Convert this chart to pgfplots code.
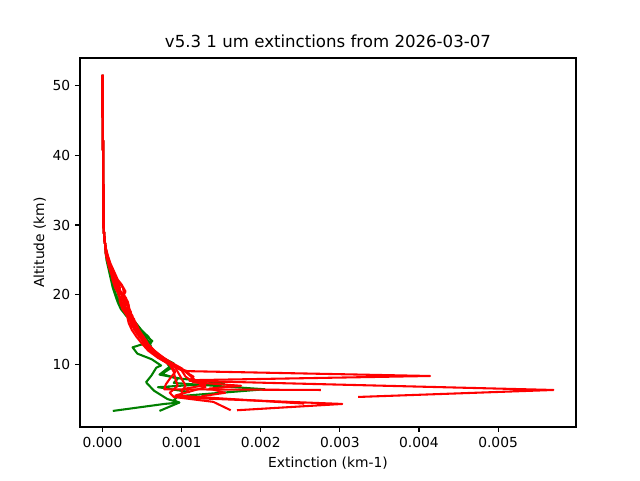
\documentclass[border=0pt]{standalone}
\usepackage{fontspec}
\setmainfont{DejaVu Sans}
\usepackage{pgfplots}
\pgfplotsset{compat=1.18}
\definecolor{mgreen}{HTML}{008000}
\definecolor{mred}{HTML}{FF0000}
\begin{document}
\begin{tikzpicture}
\begin{axis}[
  name=ax,
  scale only axis,
  width=4.96in, height=3.69in,
  xmin=-0.000285, xmax=0.005985,
  ymin=1.1, ymax=53.9,
  xtick={0,0.001,0.002,0.003,0.004,0.005},
  xticklabels={0.000,0.001,0.002,0.003,0.004,0.005},
  ytick={10,20,30,40,50},
  scaled x ticks=false,
  tick align=outside,
  xtick pos=left, ytick pos=left,
  major tick length=3.5pt,
  tick style={black, line width=0.8pt},
  axis line style={line width=0.8pt},
  /pgf/number format/assume math mode=true,
  tick label style={font=\fontsize{10}{12}\selectfont},
  label style={font=\fontsize{10}{12}\selectfont},
  ylabel style={yshift=-2pt},
  title style={font=\fontsize{12}{14}\selectfont, yshift=-2pt},
  title={v5.3 1 um extinctions from 2026-03-07},
  xlabel={Extinction (km-1)},
  ylabel={Altitude (km)},
  every axis plot/.append style={line width=1.5pt, line join=round},
]
% green profiles
\addplot[mgreen] table {
0.000000 51.5
0.000001 48.5
0.000003 45.5
0.000005 42.5
0.000007 39.5
0.000008 36.5
0.000010 33.5
0.000012 30.5
0.000020 28.5
0.000035 27.0
0.00004 26
0.00005 25
0.00007 24
0.00009 23
0.00011 22
0.00013 21
0.00016 20
0.00019 19
0.00023 18
0.00030 17
0.00040 16
0.00048 15
0.00056 14
0.00063 13.4
0.00038 12.5
0.00044 11.6
0.00062 10.8
0.00074 9.9
0.00068 9.6
0.00062 8.5
0.00055 7.5
0.00065 6.3
0.00082 5.1
0.00097 4.6
0.00078 4.4
0.00013 3.4
};
\addplot[mgreen] table {
0.000000 51.5
0.000001 48.5
0.000003 45.5
0.000005 42.5
0.000007 39.5
0.000008 36.5
0.000010 33.5
0.000012 30.5
0.000020 28.5
0.000035 27.0
0.00004 26
0.00006 25
0.00008 24
0.00010 23
0.00012 22
0.00014 21
0.00017 20
0.00021 19
0.00025 18
0.00032 17
0.00042 16
0.00049 15
0.00058 14
0.00062 13.3
0.00058 12.6
0.00070 11.5
0.00080 10.5
0.00086 9.5
0.00075 8.7
0.00095 8.0
0.00090 7.4
0.00205 6.5
0.00095 5.5
0.00090 4.9
0.00097 4.6
0.00072 3.4
};
\addplot[mgreen] table {
0.000000 51.5
0.000001 48.5
0.000003 45.5
0.000005 42.5
0.000007 39.5
0.000008 36.5
0.000010 33.5
0.000012 30.5
0.000020 28.5
0.000035 27.0
0.00005 26
0.00007 25
0.00009 24
0.00011 23
0.00014 22
0.00017 21
0.00020 20
0.00024 19
0.00028 18
0.00034 17
0.00041 16
0.00047 15
0.00054 14
0.00060 13
0.00063 12
0.00076 11
0.00090 10.2
0.00080 9.3
0.00072 8.6
0.00100 8.0
0.00154 7.4
0.00070 6.8
0.00110 6.1
};
% red profiles
\addplot[mred] table {
0.000000 51.5
0.000001 48.5
0.000003 45.5
0.000005 42.5
0.000007 39.5
0.000008 36.5
0.000010 33.5
0.000012 30.5
0.000020 28.5
0.000035 27.0
0.00006 25.5
0.00009 24.5
0.00012 23.5
0.00017 22.5
0.00024 21.5
0.00029 20.5
0.00025 19.5
0.00031 18.5
0.00036 17.5
0.00033 16.5
0.00041 15.5
0.00043 14.5
0.00052 13.5
0.00058 12.5
0.00068 11.5
0.00080 10.5
0.00095 9.6
0.00105 9.1
0.00414 8.4
0.00112 7.8
0.00130 7.1
0.00105 6.6
0.00110 6.0
};
\addplot[mred] table {
0.000000 51.5
0.000001 48.5
0.000003 45.5
0.000005 42.5
0.000007 39.5
0.000008 36.5
0.000010 33.5
0.000012 30.5
0.000020 28.5
0.000035 27.0
0.00005 26
0.00008 25
0.00011 24
0.00015 23
0.00019 22
0.00026 21
0.00027 20
0.00032 19
0.00034 18
0.00037 17
0.00042 16
0.00046 15
0.00052 14
0.00057 13
0.00066 12
0.00077 11
0.00090 10
0.00105 9
0.00115 8.3
0.00110 7.7
0.00570 6.4
0.00323 5.4
};
\addplot[mred] table {
0.000000 51.5
0.000001 48.5
0.000003 45.5
0.000005 42.5
0.000007 39.5
0.000008 36.5
0.000010 33.5
0.000012 30.5
0.000020 28.5
0.000035 27.0
0.00004 26
0.00006 25
0.00008 24
0.00011 23
0.00013 22
0.00016 21
0.00021 20
0.00022 19
0.00025 18
0.00031 17
0.00033 16
0.00037 15
0.00043 14
0.00050 13
0.00058 12
0.00070 11
0.00086 10
0.00092 9
0.00085 8
0.00080 7.2
0.00078 6.5
0.00276 6.4
};
\addplot[mred] table {
0.000000 51.5
0.000001 48.5
0.000003 45.5
0.000005 42.5
0.000007 39.5
0.000008 36.5
0.000010 33.5
0.000012 30.5
0.000020 28.5
0.000035 27.0
0.00005 25.5
0.00008 24.5
0.00011 23.5
0.00014 22.5
0.00017 21.5
0.00023 20.5
0.00030 19.5
0.00026 18.5
0.00033 17.5
0.00040 16.5
0.00037 15.5
0.00047 14.5
0.00050 13.5
0.00061 12.5
0.00069 11.5
0.00082 10.5
0.00090 10.0
0.00095 9.0
0.00100 8.0
0.00105 7.0
0.00100 6.2
0.00101 5.3
0.00303 4.4
0.00170 3.5
};
\addplot[mred] table {
0.000000 51.5
0.000001 48.5
0.000003 45.5
0.000005 42.5
0.000007 39.5
0.000008 36.5
0.000010 33.5
0.000012 30.5
0.000020 28.5
0.000035 27.0
0.00005 26
0.00007 25
0.00010 24
0.00014 23
0.00015 22
0.00019 21
0.00025 20
0.00029 19
0.00027 18
0.00034 17
0.00039 16
0.00043 15
0.00046 14
0.00056 13
0.00063 12
0.00072 11
0.00085 10
0.00090 9
0.00092 8
0.00095 7
0.00085 6
0.00090 5.4
0.00140 4.7
0.00162 3.5
};
\addplot[mred] table {
0.000000 51.5
0.000001 48.5
0.000003 45.5
0.000005 42.5
0.000007 39.5
0.000008 36.5
0.000010 33.5
0.000012 30.5
0.000020 28.5
0.000035 27.0
0.00007 25.5
0.00010 24.5
0.00014 23.5
0.00018 22.5
0.00021 21.5
0.00022 20.5
0.00027 19.5
0.00033 18.5
0.00031 17.5
0.00036 16.5
0.00044 15.5
0.00045 14.5
0.00055 13.5
0.00060 12.5
0.00071 11.5
0.00084 10.5
0.00100 9.5
0.00110 8.5
0.00120 7.5
0.00130 6.8
0.00092 5.6
0.00255 4.45
};
\addplot[mred] table {
0.000000 51.5
0.000001 48.5
0.000003 45.5
0.000005 42.5
0.000007 39.5
0.000008 36.5
0.000010 33.5
0.000012 30.5
0.000020 28.5
0.000035 27.0
0.00005 26
0.00008 25
0.00009 24
0.00012 23
0.00017 22
0.00022 21
0.00020 20
0.00027 19
0.00030 18
0.00038 17
0.00035 16
0.00042 15
0.00049 14
0.00053 13
0.00064 12
0.00074 11
0.00086 10
0.00100 9.2
0.00105 8.3
0.00115 7.5
0.00175 7.0
0.00135 6.6
0.00155 6.0
0.00125 5.5
};
\addplot[mred] table {
0.000000 51.5
0.000001 48.5
0.000003 45.5
0.000005 42.5
0.000007 39.5
0.000008 36.5
0.000010 33.5
0.000012 30.5
0.000020 28.5
0.000035 27.0
0.00004 26
0.00006 25
0.00009 24
0.00012 23
0.00014 22
0.00018 21
0.00024 20
0.00024 19
0.00028 18
0.00032 17
0.00038 16
0.00040 15
0.00048 14
0.00052 13
0.00060 12
0.00071 11
0.00085 10
0.00095 9.5
0.00110 9.0
};
\end{axis}
\pgfresetboundingbox
\useasboundingbox ([shift={(-0.80in,-0.53in)}]ax.south west) rectangle ([shift={(0.64in,0.58in)}]ax.north east);
\end{tikzpicture}
\end{document}
